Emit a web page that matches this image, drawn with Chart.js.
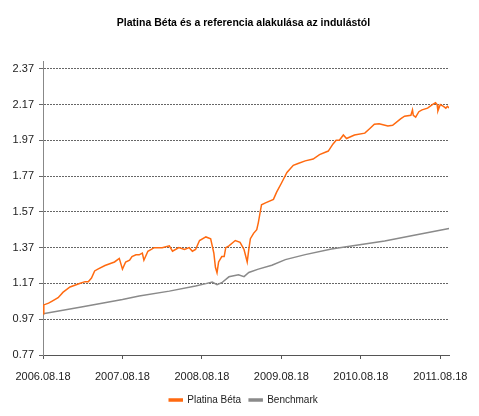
<!DOCTYPE html>
<html>
<head>
<meta charset="utf-8">
<script src="https://cdn.jsdelivr.net/npm/chart.js@4/dist/chart.umd.min.js"></script>
<style>
    html, body { margin: 0; padding: 0; background: #ffffff; }
    #wrap { width: 479px; height: 416px; }
</style>
</head>
<body>
<div id="wrap"><canvas id="perfChart"></canvas></div>
<script>
// years since 2006.08.18 and index values
const betaX = [0.00, 0.01, 0.07, 0.11, 0.19, 0.23, 0.25, 0.34, 0.40, 0.46, 0.53, 0.57, 0.61, 0.65, 0.69, 0.78, 0.84, 0.90, 0.96, 1.00,
    1.04, 1.09, 1.12, 1.17, 1.21, 1.25, 1.27, 1.32, 1.40, 1.50, 1.59, 1.63, 1.71, 1.78, 1.84, 1.88, 1.92, 1.97, 2.05, 2.11,
    2.13, 2.15, 2.17, 2.19, 2.21, 2.25, 2.28, 2.30, 2.34, 2.42, 2.48, 2.53, 2.57, 2.59, 2.61, 2.65, 2.69, 2.71, 2.75, 2.80,
    2.90, 2.94, 3.00, 3.07, 3.15, 3.21, 3.30, 3.40, 3.48, 3.59, 3.65, 3.69, 3.73, 3.78, 3.82, 3.92, 4.05, 4.11, 4.17, 4.23,
    4.34, 4.40, 4.50, 4.55, 4.63, 4.65, 4.66, 4.69, 4.73, 4.77, 4.84, 4.90, 4.94, 4.96, 4.97, 5.00, 5.04, 5.07, 5.09, 5.11];
const betaY = [1.00, 1.05, 1.06, 1.07, 1.09, 1.11, 1.12, 1.15, 1.16, 1.17, 1.18, 1.18, 1.20, 1.24, 1.25, 1.27, 1.28, 1.29, 1.31, 1.25,
    1.29, 1.30, 1.32, 1.33, 1.33, 1.34, 1.30, 1.35, 1.37, 1.37, 1.38, 1.35, 1.37, 1.36, 1.37, 1.35, 1.36, 1.41, 1.43, 1.42,
    1.38, 1.34, 1.26, 1.23, 1.29, 1.32, 1.32, 1.37, 1.38, 1.41, 1.40, 1.36, 1.29, 1.36, 1.42, 1.45, 1.47, 1.51, 1.61, 1.62,
    1.64, 1.68, 1.73, 1.79, 1.83, 1.84, 1.855, 1.865, 1.89, 1.91, 1.95, 1.97, 1.97, 2.00, 1.98, 2.00, 2.01, 2.035, 2.06, 2.063,
    2.05, 2.054, 2.09, 2.105, 2.11, 2.14, 2.11, 2.10, 2.13, 2.14, 2.15, 2.17, 2.18, 2.17, 2.135, 2.17, 2.16, 2.15, 2.16, 2.15];

const benchX = [0.00, 0.50, 1.00, 1.21, 1.59, 1.92, 2.05, 2.13, 2.19, 2.25, 2.34, 2.46, 2.53, 2.59, 2.71, 2.88, 3.05, 3.30, 3.63, 3.88, 4.30, 4.67, 5.11];
const benchY = [1.00, 1.04, 1.08, 1.10, 1.127, 1.156, 1.169, 1.178, 1.163, 1.174, 1.207, 1.218, 1.208, 1.231, 1.25, 1.272, 1.303, 1.331, 1.363, 1.379, 1.407, 1.439, 1.477];

const xTickLabels = ["2006.08.18", "2007.08.18", "2008.08.18", "2009.08.18", "2010.08.18", "2011.08.18"];
const yTicks = [0.77, 0.97, 1.17, 1.37, 1.57, 1.77, 1.97, 2.17, 2.37];

const toPoints = (xs, ys) => xs.map((x, i) => ({ x: x, y: ys[i] }));
const labelFont = { family: "Liberation Sans", size: 11 };

const ctx = document.getElementById("perfChart").getContext("2d");
new Chart(ctx, {
    type: "line",
    data: {
        datasets: [{
            label: "Platina Béta",
            data: toPoints(betaX, betaY),
            borderColor: "#ff6a10",
            backgroundColor: "#ff6a10",
            borderWidth: 1.5
        }, {
            label: "Benchmark",
            data: toPoints(benchX, benchY),
            borderColor: "#8a8a8a",
            backgroundColor: "#8a8a8a",
            borderWidth: 1.5
        }]
    },
    options: {
        responsive: true,
        maintainAspectRatio: false,
        animation: false,
        elements: { point: { radius: 0 }, line: { tension: 0 } },
        layout: { padding: { left: 8, right: 0, top: 0, bottom: 1 } },
        plugins: {
            title: {
                display: true,
                text: "Platina Béta és a referencia alakulása az indulástól",
                color: "#000",
                font: { family: "Liberation Sans", size: 10.5, weight: "bold" },
                padding: { top: 17, bottom: 32 }
            },
            legend: {
                position: "bottom",
                labels: {
                    boxWidth: 13,
                    boxHeight: 2,
                    padding: 8,
                    color: "#222",
                    font: { family: "Liberation Sans", size: 10 }
                }
            },
            tooltip: { enabled: false }
        },
        scales: {
            x: {
                type: "linear",
                min: 0,
                max: 5.11,
                afterBuildTicks: scale => {
                    scale.ticks = xTickLabels.map((l, i) => ({ value: i }));
                },
                afterFit: scale => { scale.height = 32; },
                ticks: {
                    autoSkip: false,
                    maxRotation: 0,
                    padding: 11,
                    color: "#222",
                    font: labelFont,
                    callback: (v, i) => xTickLabels[i]
                },
                grid: { drawOnChartArea: false, drawTicks: true, tickLength: 4, color: "#555" },
                border: { color: "#555" }
            },
            y: {
                type: "linear",
                min: 0.77,
                max: 2.41,
                afterBuildTicks: scale => {
                    scale.ticks = yTicks.map(v => ({ value: v }));
                },
                afterFit: scale => { scale.width = 35; },
                ticks: {
                    padding: 5,
                    color: "#222",
                    font: labelFont,
                    callback: v => v.toFixed(2)
                },
                grid: { color: "#666", tickLength: 4 },
                border: { color: "#888", dash: [2, 1] }
            },
            // empty right axis, only keeps the right margin
            y2: {
                type: "linear",
                position: "right",
                afterFit: scale => { scale.width = 27; },
                ticks: { display: false },
                grid: { display: false, drawTicks: false },
                border: { display: false }
            }
        }
    }
});
</script>
</body>
</html>
